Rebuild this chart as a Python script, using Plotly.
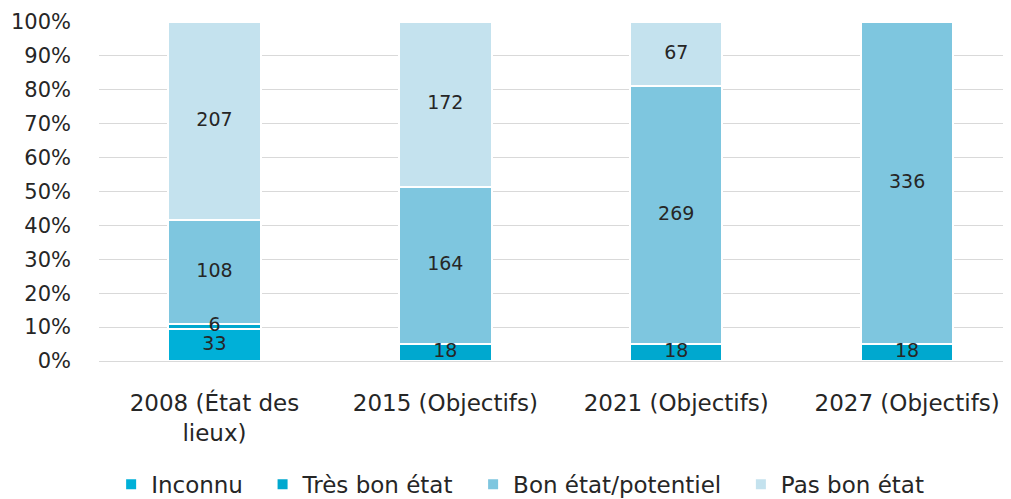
import plotly.graph_objects as go

# Catégories et effectifs (nombre de masses d'eau)
annees = ["2008 (État des<br>lieux)", "2015 (Objectifs)", "2021 (Objectifs)", "2027 (Objectifs)"]
inconnu = [33, None, None, None]
tres_bon = [6, 18, 18, 18]
bon = [108, 164, 269, 336]
pas_bon = [207, 172, 67, None]

series = [
    ("Inconnu", inconnu, "#00B0D8"),
    ("Très bon état", tres_bon, "#00A8CF"),
    ("Bon état/potentiel", bon, "#7EC6DF"),
    ("Pas bon état", pas_bon, "#C4E2EE"),
]

fig = go.Figure()

for nom, valeurs, couleur in series:
    fig.add_trace(go.Bar(
        x=annees, y=valeurs,
        name=nom + "\u00a0\u00a0",
        marker=dict(color=couleur, line=dict(color="white", width=2)),
        width=0.40,
        hoverinfo="x+y+name"
    ))

# Étiquettes au centre de chaque segment (calculées à partir des effectifs)
totaux = [sum(v[i] or 0 for _, v, _ in series) for i in range(len(annees))]
lab_x, lab_y, lab_t = [], [], []
for i, cat in enumerate(annees):
    cumul = 0
    for _, valeurs, _ in series:
        v = valeurs[i]
        if v:
            pct = 100 * v / totaux[i]
            lab_x.append(cat)
            lab_y.append(cumul + pct / 2)
            lab_t.append(str(v))
            cumul += pct

fig.add_trace(go.Scatter(
    x=lab_x, y=lab_y, text=lab_t,
    mode="text",
    textfont=dict(size=19, color="#262626"),
    showlegend=False, hoverinfo="skip",
    cliponaxis=False
))

fig.update_layout(
    barmode="stack",
    barnorm="percent",
    width=1011, height=515,
    margin=dict(l=91, r=8, t=14, b=162),
    paper_bgcolor="white",
    plot_bgcolor="white",
    font=dict(family="DejaVu Sans", size=21, color="#262626"),
    showlegend=True,
    legend=dict(
        orientation="h",
        x=0.47, xanchor="center",
        y=-0.364, yanchor="middle",
        font=dict(size=23, color="#262626"),
        traceorder="normal",
        itemwidth=30
    ),
    xaxis=dict(
        range=[-0.5, 3.45],
        showline=True, linecolor="#D9D9D9", linewidth=1,
        ticks="", tickfont=dict(size=23),
        ticklabelstandoff=21,
        automargin=False,
        fixedrange=True
    ),
    yaxis=dict(
        range=[0, 100],
        dtick=10,
        ticksuffix="%",
        showgrid=True, gridcolor="#D9D9D9", gridwidth=1,
        zeroline=False,
        ticks="", tickfont=dict(size=21),
        ticklabelstandoff=27,
        automargin=False
    )
)

fig.write_html("out.html")
